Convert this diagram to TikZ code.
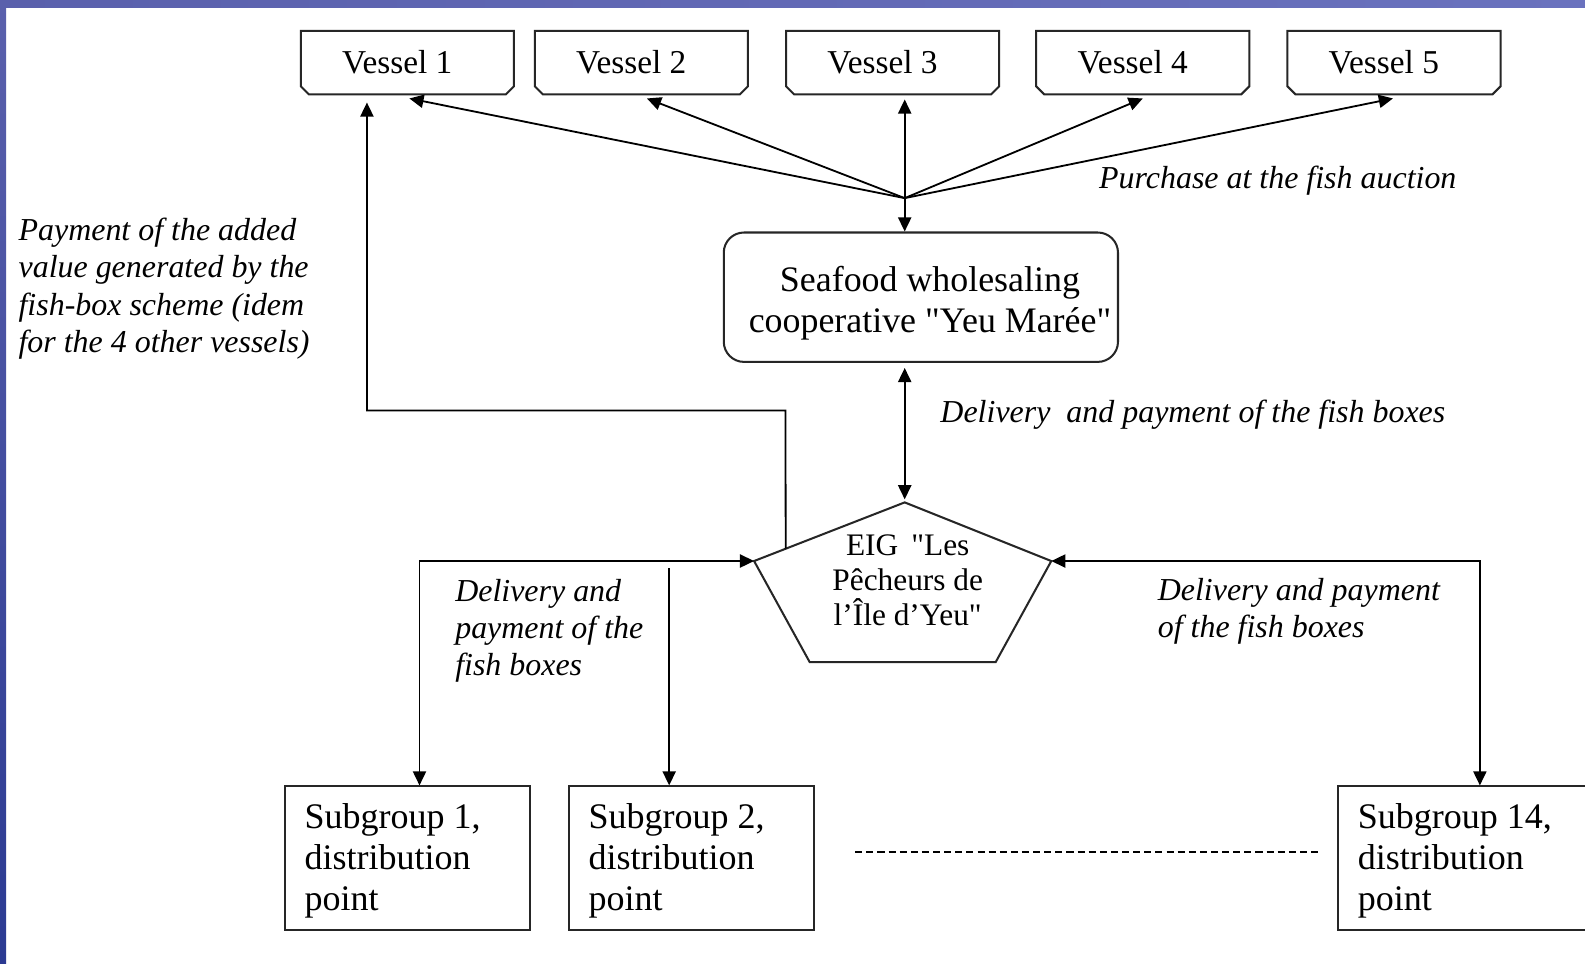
\documentclass[tikz,border=0pt]{standalone}
\usepackage{fontspec}
\setmainfont{Liberation Serif}[Ligatures=TeXOff]
\usetikzlibrary{arrows.meta,calc}
\definecolor{barA}{HTML}{5A60AC}
\definecolor{barB}{HTML}{A8B0DE}
\definecolor{barC}{HTML}{6A72BE}
\definecolor{barD}{HTML}{2B3A92}
\begin{document}
\begin{tikzpicture}[x=0.5bp,y=-0.5bp,
  line/.style={line width=0.9bp,draw=black},
  arr/.style={line,-{Triangle[length=7bp,width=6.5bp]}},
  darr/.style={line,{Triangle[length=7bp,width=6.5bp]}-{Triangle[length=7bp,width=6.5bp]}},
  boxline/.style={line width=1bp,draw=black!85},
  vtext/.style={font=\fontsize{16.5bp}{19bp}\selectfont,minimum width=105bp,minimum height=31bp,inner sep=0pt},
  coopbox/.style={draw=black!85,line width=1bp,rounded corners=10bp,minimum width=195bp,minimum height=64bp,inner sep=0pt},
  cooptext/.style={font=\fontsize{17.75bp}{20bp}\selectfont,align=center,inner sep=0pt},
  eigtext/.style={font=\fontsize{15.5bp}{17.3bp}\selectfont,align=center,inner sep=0pt},
  sgtext/.style={font=\fontsize{17.8bp}{20.25bp}\selectfont,align=left,inner sep=0pt},
  sgbox/.style={draw=black!85,line width=1bp,minimum width=121bp,minimum height=71bp,inner sep=0pt},
  lab/.style={font=\fontsize{15.8bp}{18.5bp}\selectfont\itshape,align=left,inner sep=0pt},
]
\useasboundingbox (0,0) rectangle (1568,953);
\fill[white] (0,0) rectangle (1568,953);
\shade[left color=barA,middle color=barB,right color=barC] (0,0) rectangle (1568,7);
\shade[top color=barA,bottom color=barD] (0,0) rectangle (6,953);

% vessels
\foreach \i/\x in {1/403,2/634.5,3/883,4/1130.5,5/1379} {
  \node[vtext] (v\i) at (\x,62) {\hspace*{-10bp}Vessel \i};
  \draw[boxline] (v\i.north west) -- (v\i.north east) -- ([yshift=4bp]v\i.south east)
     -- ([xshift=-4bp]v\i.south east) -- ([xshift=4bp]v\i.south west)
     -- ([yshift=4bp]v\i.south west) -- cycle;
}

% cooperative
\node[coopbox] (coop) at (911,294) {};
\node[cooptext] (cooptxt) at (920,300) {Seafood wholesaling\\cooperative "Yeu Marée"};

% convergence
\coordinate (cv) at (895,196);
\draw[arr] (cv) -- ($(v1.south)+(2,4)$);
\draw[arr] (cv) -- ($(v2.south)+(5.5,4)$);
\draw[arr] (cv) -- ($(v4.south)+(0,4)$);
\draw[arr] (cv) -- ($(v5.south)+(-1,4)$);
\draw[darr] ($(cv |- v3.south)+(0,5)$) -- (cv |- coop.north);

% pentagon
\coordinate (pA) at (895,497);
\coordinate (pL) at (746,555);
\coordinate (pR) at (1040,555);
\coordinate (pBL) at (801,655);
\coordinate (pBR) at (985,655);
\draw[boxline] (pA) -- (pR) -- (pBR) -- (pBL) -- (pL) -- cycle;
\node[eigtext] (eig) at (898,574) {EIG \,"Les\\Pêcheurs de\\l’Île d’Yeu"};

\draw[darr] ($(cv |- coop.south)+(0,5)$) -- ($(pA)+(0,-3)$);

% loop to vessel 1
\coordinate (e1) at ($(pL)!0.21!(pA)$);
\coordinate (k1) at (777,406);
\coordinate (k2) at (363,406);
\draw[arr] (e1) -- (k1) -- (k2) -- ($(k2 |- v1.south)+(0,8)$);

% subgroups
\node[sgbox] (sg1) at (403,849) {};
\node[sgbox] (sg2) at (684,849) {};
\node[sgbox,minimum width=125bp] (sg14) at (1449,849) {};
\node[sgtext,anchor=west] (sg1t) at ($(sg1.west)+(20,3)$) {Subgroup 1,\\distribution\\point};
\node[sgtext,anchor=west] (sg2t) at ($(sg2.west)+(20,3)$) {Subgroup 2,\\distribution\\point};
\node[sgtext,anchor=west] (sg14t) at ($(sg14.west)+(20,3)$) {Subgroup 14,\\distribution\\point};

\coordinate (c1) at (415,555);
\coordinate (c2) at (662,562);
\coordinate (c3) at (1464,555);
\draw[darr] (pL) -- (c1) -- (c1 |- sg1.north);
\draw[arr] (c2) -- (c2 |- sg2.north);
\draw[darr] (pR) -- (c3) -- (c3 |- sg14.north);

\draw[line,line width=0.75bp,dash pattern=on 3.5bp off 2bp] ($(sg2.east)+(40,-6)$) -- ($(sg14.west)+(-16,-6)$);

% labels
\node[lab,anchor=west] (l1) at (1087,179) {Purchase at the fish auction};
\node[lab,anchor=west] (l2) at (930,410) {Delivery\ \ and payment of the fish boxes};
\node[lab,anchor=west] (l3) at (18,285.5) {Payment of the added\\value generated by the\\fish-box scheme (idem\\for the 4 other vessels)};
\node[lab,anchor=west] (l4) at (450,624) {Delivery and\\payment of the\\fish boxes};
\node[lab,anchor=west] (l5) at (1145,605) {Delivery and payment\\of the fish boxes};
\end{tikzpicture}
\end{document}
